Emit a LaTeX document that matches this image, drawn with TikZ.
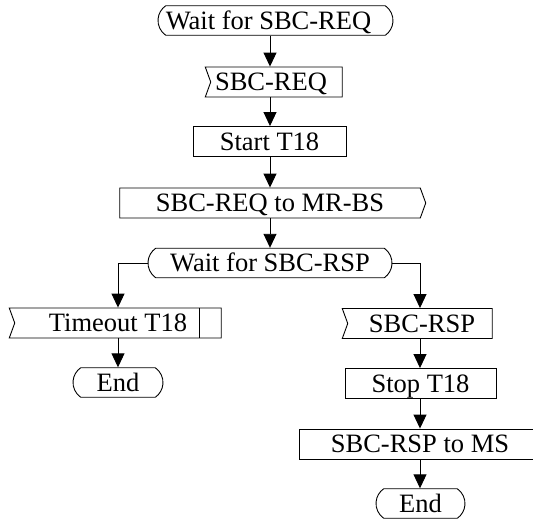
\documentclass[tikz,border=0pt]{standalone}
\usepackage{fontspec}
\setmainfont{Liberation Serif}
\usetikzlibrary{shapes.misc,shapes.symbols,arrows.meta}
% set a label off the centre of its symbol by #1
\newcommand\offsettext[2]{\hspace*{#1}#2\hspace*{-#1}}
\begin{document}
\begin{tikzpicture}[x=1pt,y=-1pt,
  every node/.style={font=\fontsize{26.5pt}{30pt}\selectfont, inner sep=0pt,
    text height=17.5pt, text depth=0pt},
  box/.style={draw, line width=0.9pt},
  state/.style={box, rounded rectangle, rounded rectangle arc length=110,
    minimum height=29.5pt},
  task/.style={box, rectangle, minimum height=30pt},
  input/.style={box, signal, signal from=west, signal to=nowhere,
    signal pointer angle=140, minimum height=30pt},
  output/.style={box, signal, signal to=east, signal from=nowhere,
    signal pointer angle=140, minimum height=30pt},
  flow/.style={line width=0.9pt, -{Triangle[length=14pt,width=13pt]}}
]
\useasboundingbox (0,0) rectangle (533,520);

% flow axes of the three columns
\coordinate (axis) at (270,0);

% main column
\node[state, minimum width=235pt] (s1) at (275.5,20.5) {\offsettext{-7pt}{Wait for SBC-REQ}};
\node[input, minimum width=137pt] (i1) at (276.5,82) {\offsettext{-5.5pt}{SBC-REQ}};
\node[task, minimum width=153pt] (t1) at (269.5,141.5) {Start T18};
\node[output, minimum width=306pt] (o1) at (270,203) {SBC-REQ to MR-BS};
\node[state, minimum width=244pt] (s2) at (270,263) {Wait for SBC-RSP};

% timeout branch
\node[input, minimum width=212pt] (i2) at (118,323) {Timeout T18};
\draw[box] ([xshift=-22pt]i2.north east) -- ([xshift=-22pt]i2.south east);
\node[state, minimum width=90pt] (e1) at (118,382.5) {End};

% response branch
\node[input, minimum width=150pt] (i3) at (420,323.5) {\offsettext{2pt}{SBC-RSP}};
\node[task, minimum width=151pt] (t2) at (420.5,383.5) {Stop T18};
\node[task, minimum width=242pt] (t3) at (420,444) {SBC-RSP to MS};
\node[state, minimum width=89pt] (e2) at (420.5,503.5) {End};

% connectors
\draw[flow] (s1.south -| axis) -- (i1.north -| axis);
\draw[flow] (i1.south -| axis) -- (t1.north -| axis);
\draw[flow] (t1.south -| axis) -- (o1.north -| axis);
\draw[flow] (o1.south -| axis) -- (s2.north -| axis);
\draw[flow] (s2.west) -| (i2.north);
\draw[flow] (i2.south) -- (e1.north);
\draw[flow] (s2.east) -| (i3.north);
\draw[flow] (i3.south) -- (t2.north -| i3.south);
\draw[flow] (t2.south -| i3.south) -- (t3.north -| i3.south);
\draw[flow] (t3.south -| i3.south) -- (e2.north -| i3.south);
\end{tikzpicture}
\end{document}
